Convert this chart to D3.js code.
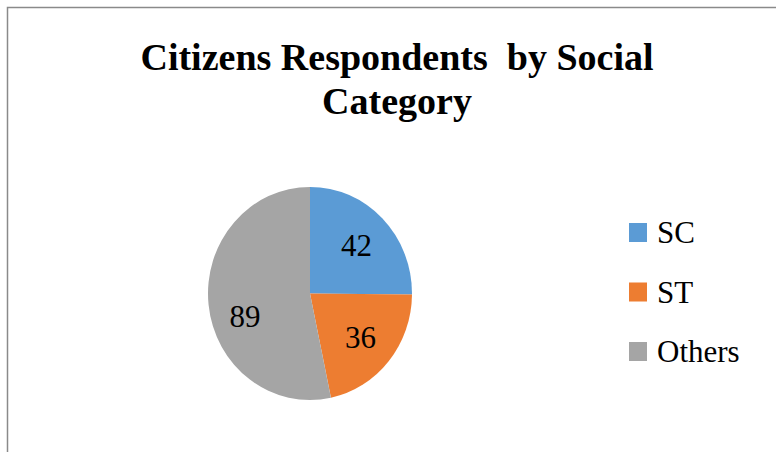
<!DOCTYPE html>
<html>
<head>
<meta charset="utf-8">
<script src="https://cdn.jsdelivr.net/npm/d3@7"></script>
<style>
  html, body { margin: 0; padding: 0; background: #fff; }
  svg { display: block; }
  svg text { font-family: 'Liberation Serif', 'Times New Roman', Times, 'DejaVu Serif', 'Noto Serif', serif; }
</style>
</head>
<body>
<svg id="chart" width="776" height="452"></svg>
<script>
// Respondents by social category
const categories = ["SC", "ST", "Others"];
const counts = [42, 36, 89];
const colors = ["#5B9BD5", "#ED7D31", "#A5A5A5"];
const titleLines = ["Citizens Respondents  by Social", "Category"];

const svg = d3.select("#chart");

// outer chart frame
svg.append("rect")
  .attr("x", 7.5).attr("y", 7.5)
  .attr("width", 800).attr("height", 500)
  .attr("fill", "#fff")
  .attr("stroke", "#8a8a8a")
  .attr("stroke-width", 1.5);

// title
svg.append("text")
  .attr("x", 397).attr("y", 70)
  .attr("text-anchor", "middle")
  .attr("font-size", 38)
  .attr("font-weight", "bold")
  .attr("xml:space", "preserve")
  .selectAll("tspan")
  .data(titleLines)
  .join("tspan")
  .attr("x", 397)
  .attr("dy", (d, i) => i === 0 ? 0 : 44)
  .text(d => d);

const data = categories.map((c, i) => ({ name: c, value: counts[i], color: colors[i] }));

const cx = 310, cy = 293.5, r = 102, sy = 1.045;
const pie = d3.pie().sort(null).value(d => d.value);
const arcs = pie(data);
const arc = d3.arc().innerRadius(0).outerRadius(r);

const g = svg.append("g").attr("transform", `translate(${cx},${cy}) scale(1,${sy})`);
g.selectAll("path")
  .data(arcs)
  .join("path")
  .attr("d", arc)
  .attr("fill", d => d.data.color);

// value labels, placed inside each slice
const labelArc = d3.arc().innerRadius(r * 0.64).outerRadius(r * 0.64);
svg.append("g")
  .selectAll("text")
  .data(arcs)
  .join("text")
  .attr("x", d => cx + labelArc.centroid(d)[0])
  .attr("y", d => cy + labelArc.centroid(d)[1] * sy + (d.index === 2 ? 16 : 0))
  .attr("dy", "0.35em")
  .attr("text-anchor", "middle")
  .attr("font-size", 31)
  .attr("fill", "#000")
  .text(d => d.data.value);

// legend
const legend = svg.append("g").attr("transform", "translate(629,223)");
const items = legend.selectAll("g")
  .data(data)
  .join("g")
  .attr("transform", (d, i) => `translate(0,${i * 59.5})`);
items.append("rect")
  .attr("width", 18).attr("height", 19)
  .attr("fill", d => d.color);
items.append("text")
  .attr("x", 28).attr("y", 20)
  .attr("font-size", 31)
  .text(d => d.name);
</script>
</body>
</html>
